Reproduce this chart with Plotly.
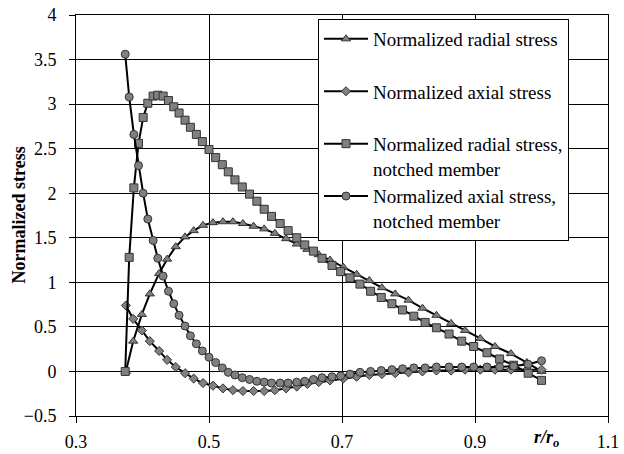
import plotly.graph_objects as go

# Plain member grid (triangles / diamonds)
x_plain = [0.375, 0.386, 0.399, 0.411, 0.425, 0.437, 0.450, 0.464, 0.477, 0.491,
           0.506, 0.521, 0.536, 0.551, 0.567, 0.583, 0.599, 0.616, 0.632, 0.648,
           0.665, 0.682, 0.702, 0.722, 0.741, 0.760, 0.780, 0.800, 0.821, 0.842,
           0.864, 0.885, 0.908, 0.930, 0.954, 0.978, 1.000]
radial = [0.00, 0.34, 0.64, 0.87, 1.10, 1.26, 1.40, 1.51, 1.58, 1.64,
          1.67, 1.68, 1.68, 1.66, 1.63, 1.60, 1.55, 1.49, 1.43, 1.37,
          1.31, 1.25, 1.17, 1.09, 1.02, 0.94, 0.87, 0.80, 0.71, 0.63,
          0.54, 0.46, 0.37, 0.28, 0.20, 0.10, 0.00]
axial = [0.74, 0.59, 0.46, 0.34, 0.23, 0.13, 0.05, -0.02, -0.08, -0.13,
         -0.16, -0.19, -0.21, -0.22, -0.22, -0.22, -0.21, -0.19, -0.17, -0.14,
         -0.12, -0.10, -0.08, -0.06, -0.04, -0.03, -0.02, -0.01, 0.00, 0.01,
         0.01, 0.02, 0.02, 0.02, 0.02, 0.02, 0.02]

# Notched member grid (squares / circles)
x_notch = [0.374, 0.380, 0.387, 0.394, 0.401, 0.408, 0.416, 0.423, 0.431, 0.439,
           0.447, 0.455, 0.464, 0.472, 0.481, 0.490, 0.500, 0.510, 0.520, 0.529,
           0.539, 0.550, 0.561, 0.572, 0.583, 0.594, 0.607, 0.619, 0.632, 0.644,
           0.657, 0.670, 0.685, 0.698, 0.712, 0.727, 0.743, 0.759, 0.775, 0.791,
           0.808, 0.825, 0.842, 0.861, 0.880, 0.898, 0.918, 0.937, 0.958, 0.980,
           1.000]
radial_notch = [0.00, 1.28, 2.06, 2.56, 2.85, 3.01, 3.09, 3.10, 3.09, 3.04,
                2.97, 2.90, 2.82, 2.74, 2.66, 2.58, 2.49, 2.40, 2.32, 2.24,
                2.15, 2.07, 1.99, 1.91, 1.82, 1.74, 1.66, 1.58, 1.50, 1.42,
                1.35, 1.27, 1.19, 1.12, 1.05, 0.98, 0.90, 0.83, 0.76, 0.69,
                0.62, 0.55, 0.49, 0.42, 0.34, 0.28, 0.21, 0.14, 0.07, -0.02,
                -0.10]
axial_notch = [3.56, 3.08, 2.66, 2.31, 2.00, 1.71, 1.47, 1.27, 1.07, 0.90,
               0.76, 0.63, 0.51, 0.40, 0.31, 0.23, 0.16, 0.10, 0.04, -0.01,
               -0.04, -0.07, -0.09, -0.11, -0.12, -0.13, -0.13, -0.13, -0.12, -0.11,
               -0.09, -0.07, -0.06, -0.05, -0.03, -0.01, 0.00, 0.01, 0.02, 0.03,
               0.04, 0.04, 0.05, 0.05, 0.05, 0.05, 0.05, 0.05, 0.06, 0.08,
               0.12]

names = ["Normalized radial stress<br>\u00a0",
         "Normalized axial stress<br>\u00a0",
         "Normalized radial stress,<br>notched member",
         "Normalized axial stress,<br>notched member"]

FONT = "Liberation Serif"
fill = "#808080"
edge = "#333333"

fig = go.Figure()
series = [
    (x_plain, radial, "triangle-up", 8),
    (x_plain, axial, "diamond", 7),
    (x_notch, radial_notch, "square", 8),
    (x_notch, axial_notch, "circle", 8),
]
for i, (xs, ys, sym, sz) in enumerate(series):
    fig.add_trace(go.Scatter(
        x=xs, y=ys, mode="lines+markers", name=names[i], legendgroup=f"g{i}",
        line=dict(color="black", width=2),
        marker=dict(symbol=sym, size=sz, color=fill, line=dict(color=edge, width=1)),
    ))

axis_common = dict(
    showline=True, linecolor="black", linewidth=1, mirror=True,
    showgrid=True, gridcolor="black", gridwidth=1,
    ticks="outside", ticklen=6, tickcolor="black",
    tickfont=dict(family=FONT, size=18, color="black"),
    zeroline=False, automargin=False,
)

fig.update_xaxes(range=[0.3, 1.1], dtick=0.2, tick0=0.3, ticklabelstandoff=3,
                 **axis_common)
fig.update_yaxes(range=[-0.5, 4], dtick=0.5, tick0=0, ticklabelstandoff=9,
                 **axis_common)

fig.add_annotation(x=-58 / 532, xref="paper", y=0.5, yref="paper",
                   xanchor="center", yanchor="middle",
                   text="<b>Normalized stress</b>", textangle=-90, showarrow=False,
                   font=dict(family=FONT, size=18, color="black"))

fig.add_annotation(x=1.008, xref="x", y=-0.5, yref="y", yshift=-22,
                   xanchor="center",
                   text="<b><i>r/r<sub>o</sub></i></b>", showarrow=False,
                   font=dict(family=FONT, size=18, color="black"))

fig.update_layout(
    width=624, height=454,
    margin=dict(l=76, r=16, t=15, b=38, pad=0),
    plot_bgcolor="white", paper_bgcolor="white",
    showlegend=True,
    legend=dict(x=(318 - 76) / 532, y=(415.5 - 19) / 400.5,
                xanchor="left", yanchor="top",
                bgcolor="white", bordercolor="black", borderwidth=1,
                font=dict(family=FONT, size=19, color="black"),
                tracegroupgap=0, valign="top", itemwidth=44),
)

fig.write_html("out.html",
               config={"displayModeBar": False},
               post_script="document.body.style.margin='0';document.body.style.padding='0';")
